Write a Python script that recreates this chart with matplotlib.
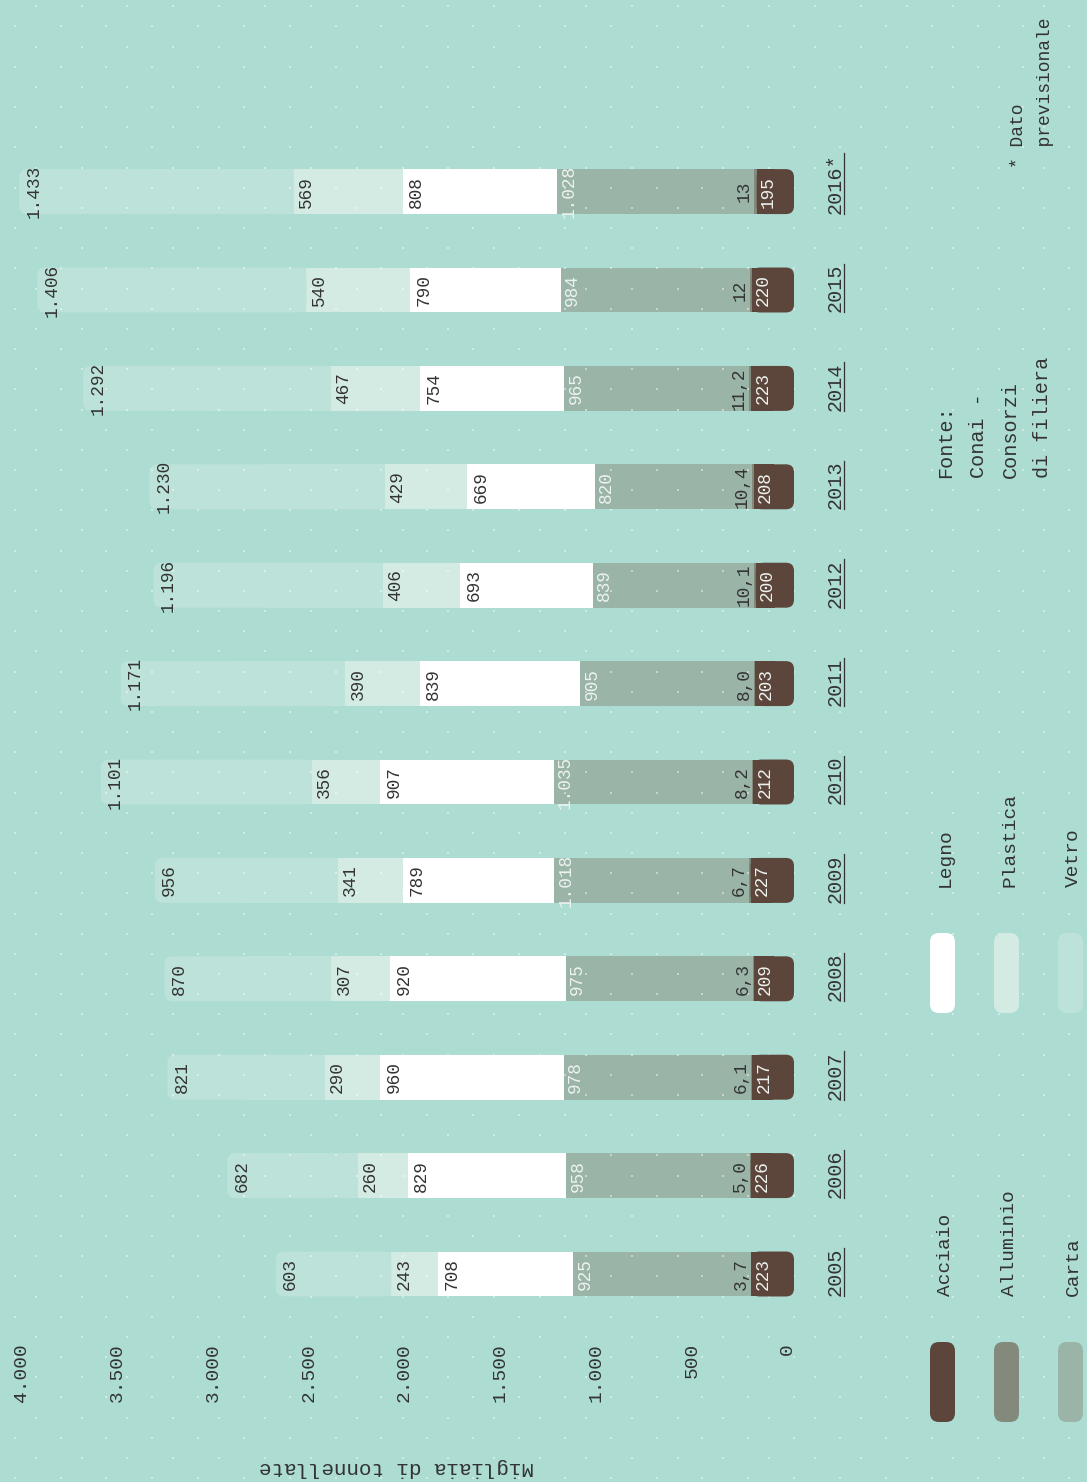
import numpy as np
import matplotlib.pyplot as plt
from matplotlib.patches import FancyBboxPatch
from matplotlib.transforms import Affine2D, blended_transform_factory
from matplotlib.lines import Line2D

# data (migliaia di tonnellate)
years = ['2005', '2006', '2007', '2008', '2009', '2010', '2011', '2012',
         '2013', '2014', '2015', '2016*']
acciaio = np.array([223, 226, 217, 209, 227, 212, 203, 200, 208, 223, 220, 195])
alluminio = np.array([3.7, 5.0, 6.1, 6.3, 6.7, 8.2, 8.0, 10.1, 10.4, 11.2, 12, 13])
alluminio_lbl = ['3,7', '5,0', '6,1', '6,3', '6,7', '8,2', '8,0', '10,1', '10,4',
                 '11,2', '12', '13']
carta = np.array([925, 958, 978, 975, 1018, 1035, 905, 839, 820, 965, 984, 1028])
legno = np.array([708, 829, 960, 920, 789, 907, 839, 693, 669, 754, 790, 808])
plastica = np.array([243, 260, 290, 307, 341, 356, 390, 406, 429, 467, 540, 569])
vetro = np.array([603, 682, 821, 870, 956, 1101, 1171, 1196, 1230, 1292, 1406, 1433])
ticks = [0, 500, 1000, 1500, 2000, 2500, 3000, 3500, 4000]

# colours
bg = '#addcd2'
c_acc = '#5c463c'
c_alu = '#838a7c'
c_car = '#9ab4a7'
c_leg = '#ffffff'
c_pla = '#d4ebe4'
c_vet = '#bde2d9'
dark = '#333333'
light = '#eef3f0'
FONT = 'Liberation Mono'

W, H = 1087, 1482
fig = plt.figure(figsize=(W / 100, H / 100), dpi=100, facecolor=bg)
ax = fig.add_axes([0, 0, 1, 1])
ax.set_facecolor(bg)
ax.axis('off')

# value axis runs right -> left, years bottom -> top
x0_px, k = 794, 0.1915      # pixel of zero, pixels per unit
y0_px, step = 1274, 98.4    # pixel of first year, pixels per year
ax.set_xlim(x0_px / k, (x0_px - W) / k)
ax.set_ylim(-(H - y0_px) / step, y0_px / step)

# image pixel coords (origin top-left)
px = Affine2D().scale(1 / 100, -1 / 100).translate(0, H / 100) + fig.dpi_scale_trans

n = len(years)
pos = np.arange(n)
h = 0.457
rs = 8 / k
asp = k / step

# background dot grid
for r in range(75):
    yy = 6.3 + r * 20.16
    xs = np.arange(35.7 if r % 2 == 0 else 14.7, W, 45.85)
    ax.scatter(xs, np.full(len(xs), yy), s=2.2, marker='s', c='white', alpha=0.45,
               linewidths=0, transform=px, zorder=3)

# stacked bars
for i in range(n):
    ax.add_patch(FancyBboxPatch((0, i - h / 2), acciaio[i], h,
                                boxstyle=f'round,pad=0,rounding_size={rs}',
                                mutation_aspect=asp, fc=c_acc, ec='none', zorder=4))
ax.barh(pos, acciaio / 2, left=acciaio / 2, height=h, color=c_acc, zorder=4)
b1 = acciaio
ax.barh(pos, alluminio, left=b1, height=h, color=c_alu, zorder=2)
b2 = b1 + alluminio
ax.barh(pos, carta, left=b2, height=h, color=c_car, zorder=2)
b3 = b2 + carta
ax.barh(pos, legno, left=b3, height=h, color=c_leg, zorder=2)
b4 = b3 + legno
ax.barh(pos, plastica, left=b4, height=h, color=c_pla, zorder=2)
b5 = b4 + plastica
for i in range(n):
    ax.add_patch(FancyBboxPatch((b5[i], i - h / 2), vetro[i], h,
                                boxstyle=f'round,pad=0,rounding_size={rs}',
                                mutation_aspect=asp, fc=c_vet, ec='none', zorder=2))
ax.barh(pos, vetro / 2, left=b5, height=h, color=c_vet, zorder=2)
b6 = b5 + vetro


def fmt(v):
    return f'{int(v):,}'.replace(',', '.')


def seg_label(val, i, s, color, side='in', pad=2.8):
    if side == 'in':
        ax.annotate(s, (val, i), xytext=(pad, 0), textcoords='offset points',
                    rotation=90, ha='left', va='center', fontsize=12.8,
                    family=FONT, color=color, zorder=6)
    else:
        ax.annotate(s, (val, i), xytext=(-0.8, 0), textcoords='offset points',
                    rotation=90, ha='right', va='center', fontsize=12.8,
                    family=FONT, color=color, zorder=6)


for i in range(n):
    seg_label(b1[i], i, fmt(acciaio[i]), light, pad=2.2)
    seg_label(b2[i], i, alluminio_lbl[i], dark, side='out')
    seg_label(b3[i], i, fmt(carta[i]), light, pad=2.2)
    seg_label(b4[i], i, fmt(legno[i]), dark, pad=4.0)
    seg_label(b5[i], i, fmt(plastica[i]), dark, pad=3.2)
    seg_label(b6[i], i, fmt(vetro[i]), dark, pad=4.5)

# value ticks
xt = blended_transform_factory(ax.transData, px)
for t in ticks:
    ax.annotate(fmt(t), (t, 1343), xycoords=xt, xytext=(-4.6, 0),
                textcoords='offset points', rotation=90, ha='center', va='top',
                fontsize=14, family=FONT, color=dark)

ax.text(397, 1467, 'Migliaia di tonnellate', transform=px, rotation=180,
        ha='center', va='center', fontsize=15, family=FONT, color=dark)

# year labels with underline
yt = blended_transform_factory(px, ax.transData)
ytxt = []
for i, yr in enumerate(years):
    ytxt.append(ax.text(826, i - h / 2, yr, transform=yt, rotation=90, ha='left',
                        va='bottom', fontsize=14.5, family=FONT, color=dark))

# legend
leg = [('Acciaio', c_acc, 930, 1342, 1296), ('Alluminio', c_alu, 994, 1342, 1296),
       ('Carta', c_car, 1058, 1342, 1296), ('Legno', c_leg, 930, 933, 887),
       ('Plastica', c_pla, 994, 933, 887), ('Vetro', c_vet, 1058, 933, 887)]
for name, col, lx, ly, ty in leg:
    fig.add_artist(FancyBboxPatch((lx, ly), 25, 80,
                                  boxstyle='round,pad=0,rounding_size=9',
                                  fc=col, ec='none', transform=px, zorder=2))
    fig.text(lx + 7, ty, name, transform=px, rotation=90, ha='left', va='bottom',
             fontsize=14, family=FONT, color=dark)

# source
for j, line in enumerate(['Fonte:', 'Conai -', 'Consorzi', 'di filiera']):
    fig.text(936 + j * 32.5, 478, line, transform=px, rotation=90, ha='left',
             va='bottom', fontsize=14.5, family=FONT, color=dark)

fig.text(1010, 168, '* Dato', transform=px, rotation=90, ha='left', va='bottom',
         fontsize=13, family=FONT, color=dark)
fig.text(1037, 168, '  previsionale', transform=px, rotation=90, ha='left',
         va='bottom', fontsize=13, family=FONT, color=dark)

fig.canvas.draw()
r = fig.canvas.get_renderer()
for t in ytxt:
    e = t.get_window_extent(r)
    y_top = H - e.y1 * 100 / fig.dpi
    y_bot = H - e.y0 * 100 / fig.dpi
    fig.add_artist(Line2D([844, 844], [y_bot, y_top], transform=px, color=dark,
                          lw=0.9))

fig.savefig('out.png', dpi=100, facecolor=bg)
